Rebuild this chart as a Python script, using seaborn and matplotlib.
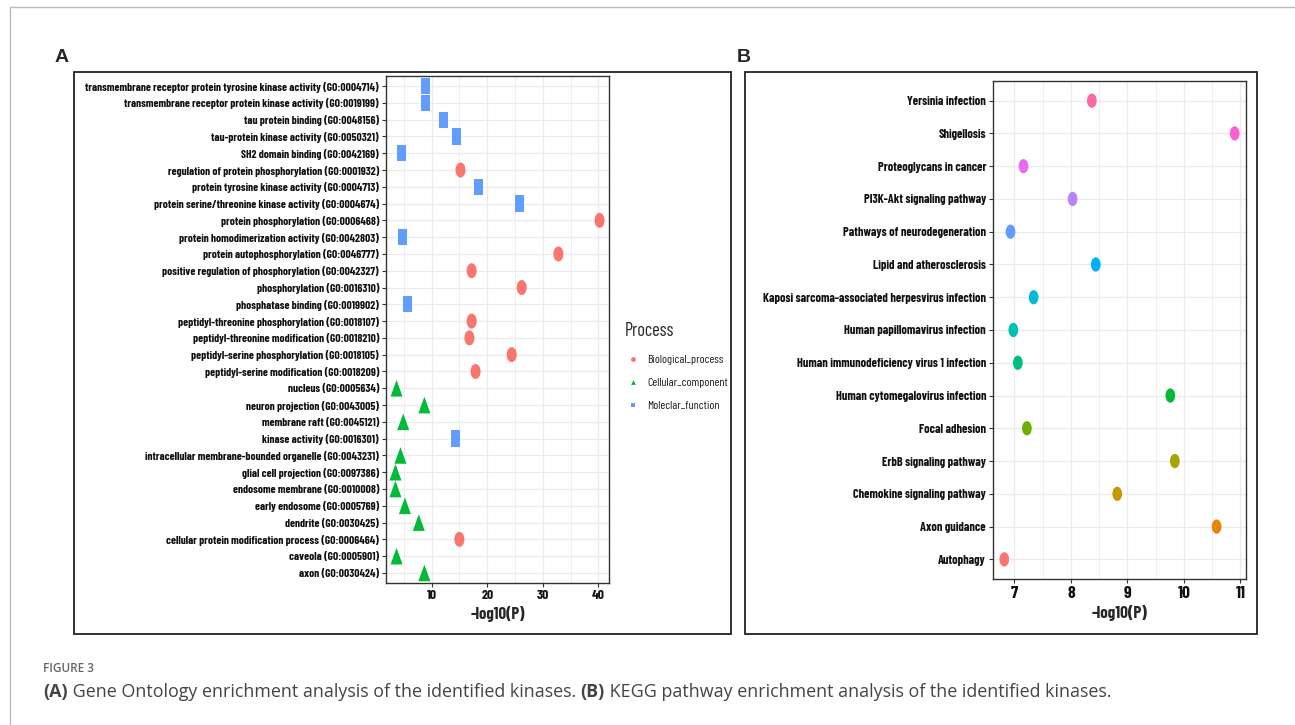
"""
Figure 3: GO (A) and KEGG (B) enrichment dot plots for the identified kinases.
"""

import numpy as np
import pandas as pd
import matplotlib
matplotlib.use('Agg')
import matplotlib.pyplot as plt
import seaborn as sns
from matplotlib import font_manager
from matplotlib.path import Path
from matplotlib.lines import Line2D
from matplotlib.patches import Rectangle

# GO terms, top to bottom as shown
go_terms = [
    'transmembrane receptor protein tyrosine kinase activity (GO:0004714)',
    'transmembrane receptor protein kinase activity (GO:0019199)',
    'tau protein binding (GO:0048156)',
    'tau-protein kinase activity (GO:0050321)',
    'SH2 domain binding (GO:0042169)',
    'regulation of protein phosphorylation (GO:0001932)',
    'protein tyrosine kinase activity (GO:0004713)',
    'protein serine/threonine kinase activity (GO:0004674)',
    'protein phosphorylation (GO:0006468)',
    'protein homodimerization activity (GO:0042803)',
    'protein autophosphorylation (GO:0046777)',
    'positive regulation of phosphorylation (GO:0042327)',
    'phosphorylation (GO:0016310)',
    'phosphatase binding (GO:0019902)',
    'peptidyl-threonine phosphorylation (GO:0018107)',
    'peptidyl-threonine modification (GO:0018210)',
    'peptidyl-serine phosphorylation (GO:0018105)',
    'peptidyl-serine modification (GO:0018209)',
    'nucleus (GO:0005634)',
    'neuron projection (GO:0043005)',
    'membrane raft (GO:0045121)',
    'kinase activity (GO:0016301)',
    'intracellular membrane-bounded organelle (GO:0043231)',
    'glial cell projection (GO:0097386)',
    'endosome membrane (GO:0010008)',
    'early endosome (GO:0005769)',
    'dendrite (GO:0030425)',
    'cellular protein modification process (GO:0006464)',
    'caveola (GO:0005901)',
    'axon (GO:0030424)',
]
go_logp = [8.9, 8.9, 12.2, 14.5, 4.6, 15.2, 18.5, 25.8, 40.2, 4.8,
           32.8, 17.2, 26.2, 5.7, 17.2, 16.8, 24.4, 17.9, 3.7, 8.7,
           4.9, 14.3, 4.4, 3.5, 3.5, 5.2, 7.7, 15.0, 3.7, 8.7]
BP, CC, MF = 'Biological_process', 'Cellular_component', 'Moleclar_function'
go_process = [MF, MF, MF, MF, MF, BP, MF, MF, BP, MF,
              BP, BP, BP, MF, BP, BP, BP, BP, CC, CC,
              CC, MF, CC, CC, CC, CC, CC, BP, CC, CC]
process_levels = [BP, CC, MF]

# KEGG pathways, top to bottom as shown
kegg_terms = [
    'Yersinia infection', 'Shigellosis', 'Proteoglycans in cancer',
    'PI3K-Akt signaling pathway', 'Pathways of neurodegeneration',
    'Lipid and atherosclerosis', 'Kaposi sarcoma-associated herpesvirus infection',
    'Human papillomavirus infection', 'Human immunodeficiency virus 1 infection',
    'Human cytomegalovirus infection', 'Focal adhesion', 'ErbB signaling pathway',
    'Chemokine signaling pathway', 'Axon guidance', 'Autophagy',
]
kegg_logp = [8.37, 10.90, 7.16, 8.03, 6.93, 8.44, 7.34, 6.98, 7.06,
             9.76, 7.22, 9.84, 8.82, 10.58, 6.82]

# ggplot default hue palette (15 levels, alphabetical)
HUE15 = ['#F8766D', '#E58700', '#C99800', '#A3A500', '#6BB100',
         '#00BA38', '#00BF7D', '#00C0AF', '#00BCD8', '#00B0F6',
         '#619CFF', '#B983FF', '#E76BF3', '#FD61D1', '#FF67A4']
PROC_COLORS = {BP: '#F8766D', CC: '#00BA38', MF: '#619CFF'}

sns.set_style('white')
installed = {f.name for f in font_manager.fontManager.ttflist}
NARROW = next((f for f in ['Liberation Sans Narrow', 'Barlow Condensed',
                           'Fira Sans Extra Condensed', 'Roboto Condensed']
               if f in installed), 'DejaVu Sans')
plt.rcParams['font.family'] = [NARROW, 'DejaVu Sans']
plt.rcParams['font.stretch'] = 'condensed'

W, H = 1295, 725


def fx(px):
    return px / W


def fy(py):
    return 1 - py / H


def ellipse(ratio):
    c = Path.unit_circle()
    return Path(c.vertices * np.array([ratio, 1.0]), c.codes)


def rect(ratio):
    return Path([(-ratio, -1), (ratio, -1), (ratio, 1), (-ratio, 1), (-ratio, -1)],
                [Path.MOVETO, Path.LINETO, Path.LINETO, Path.LINETO, Path.CLOSEPOLY])


def tri(ratio):
    return Path([(-ratio, -1), (ratio, -1), (0, 1), (-ratio, -1)],
                [Path.MOVETO, Path.LINETO, Path.LINETO, Path.CLOSEPOLY])


def fit_width(texts, target_px, size0=10.0):
    # scale a group of texts so that the widest one is target_px wide
    r = fig.canvas.get_renderer()
    for t in texts:
        t.set_fontsize(size0)
    widest = max(t.get_window_extent(r).width for t in texts)
    size = size0 * target_px / widest
    for t in texts:
        t.set_fontsize(size)
    return size


def style_axes(ax):
    ax.set_axisbelow(True)
    ax.grid(which='major', color='#EBEBEB', lw=0.9)
    ax.grid(which='minor', axis='x', color='#EBEBEB', lw=0.6)
    for sp in ax.spines.values():
        sp.set_visible(True)
        sp.set_color('#333333')
        sp.set_linewidth(1.0)
    ax.tick_params(which='major', length=3, width=0.8, color='#333333',
                   labelcolor='#111111', pad=2, left=True, bottom=True)
    ax.tick_params(which='minor', length=0)
    for lbl in ax.get_yticklabels() + ax.get_xticklabels():
        lbl.set_fontweight('bold')
    ax.set_ylabel('')


fig = plt.figure(figsize=(W / 100, H / 100), dpi=100)

# Panel A: GO enrichment
go_df = pd.DataFrame({'term': go_terms, 'logp': go_logp, 'process': go_process})
axA = fig.add_axes([fx(386), fy(583), fx(609 - 386), (583 - 76) / H])
sns.scatterplot(data=go_df, x='logp', y='term', hue='process', style='process',
                size='process', hue_order=process_levels, style_order=process_levels,
                size_order=process_levels, palette=PROC_COLORS,
                markers={BP: ellipse(0.67), CC: tri(0.72), MF: rect(0.55)},
                sizes={BP: 117, CC: 144, MF: 137},
                linewidth=0, legend=False, ax=axA)
axA.set_xlim(1.8, 41.9)
axA.set_ylim(len(go_terms) - 0.4, -0.6)
axA.set_xticks([10, 20, 30, 40])
axA.set_xticks([5, 15, 25, 35], minor=True)
style_axes(axA)
axA.set_xlabel('-log10(P)', fontweight='bold', labelpad=4)

# Panel B: KEGG enrichment
kegg_df = pd.DataFrame({'term': kegg_terms, 'logp': kegg_logp})
kegg_colors = dict(zip(sorted(kegg_terms, key=str.lower), HUE15))
axB = fig.add_axes([fx(993), fy(579), fx(1246 - 993), (579 - 81) / H])
sns.scatterplot(data=kegg_df, x='logp', y='term', hue='term', palette=kegg_colors,
                marker=ellipse(0.68), s=106, linewidth=0, legend=False, ax=axB)
axB.set_xlim(6.62, 11.1)
axB.set_ylim(len(kegg_terms) - 0.4, -0.6)
axB.set_xticks([7, 8, 9, 10, 11])
axB.set_xticks([7.5, 8.5, 9.5, 10.5], minor=True)
style_axes(axB)
axB.set_xlabel('-log10(P)', fontweight='bold', labelpad=3)

fig.canvas.draw()
fit_width(axA.get_yticklabels(), 293)
fit_width(axB.get_yticklabels(), 223)
fit_width(axA.get_xticklabels(), 13)
fit_width(axB.get_xticklabels(), 13)
fit_width([axA.xaxis.label], 55)
fit_width([axB.xaxis.label], 56)

# legend: title drawn on its own, entries indented under it
title = fig.text(fx(625), fy(331), 'Process', va='center', ha='left')
fit_width([title], 50)
probe = fig.text(0, 0, 'Biological_process')
leg_size = fit_width([probe], 76)
probe.remove()
handles = [Line2D([], [], linestyle='none', marker=m, markersize=3.5,
                  markerfacecolor=PROC_COLORS[p], markeredgewidth=0)
           for p, m in zip(process_levels, ['o', '^', 's'])]
f_px = leg_size * 100 / 72
leg = fig.legend(handles, process_levels, loc='upper left',
                 bbox_to_anchor=(fx(633 - f_px / 2), fy(355)), frameon=False,
                 fontsize=leg_size, handlelength=1.0,
                 handletextpad=(647 - 633 - f_px / 2) / f_px,
                 labelspacing=(27 - 1.2 * f_px) / f_px, borderpad=0, borderaxespad=0)
for t in leg.get_texts():
    t.set_color('#1a1a1a')

# panel frames and letters
for x0, x1 in [(74, 731), (745, 1257)]:
    fig.add_artist(Rectangle((fx(x0), fy(634)), fx(x1 - x0), (634 - 72) / H,
                             transform=fig.transFigure, fill=False,
                             edgecolor='#222222', lw=1.3))
for x0, letter in [(55, 'A'), (737, 'B')]:
    fig.text(fx(x0), fy(57), letter, fontsize=14, fontweight='bold',
             family='Liberation Sans', stretch='normal', va='center', ha='left')

# page frame
fig.add_artist(Line2D([fx(10), 1], [fy(7), fy(7)], color='#BBBBBB', lw=1.0,
                      transform=fig.transFigure))
fig.add_artist(Line2D([fx(10), fx(10)], [fy(7), 0], color='#BBBBBB', lw=1.0,
                      transform=fig.transFigure))

# caption
fig.text(fx(43), fy(668), 'FIGURE 3', fontsize=8.5, family='Open Sans',
         stretch='normal', fontweight='semibold', color='#666666', va='center')
pieces = [('(A)', 'bold'),
          (' Gene Ontology enrichment analysis of the identified kinases. ', 'normal'),
          ('(B)', 'bold'),
          (' KEGG pathway enrichment analysis of the identified kinases.', 'normal')]
renderer = fig.canvas.get_renderer()
probe = fig.text(0, 0, ''.join(p for p, _ in pieces), fontsize=10,
                 family='Open Sans', stretch='normal', va='center')
cap_size = 10 * (1107 - 43) / probe.get_window_extent(renderer).width
probe.remove()
x = fx(43)
for piece, wt in pieces:
    t = fig.text(x, fy(692), piece, fontsize=cap_size, family='Open Sans',
                 stretch='normal', fontweight=wt, color='#444444', va='center')
    x = t.get_window_extent(renderer).x1 / W

fig.savefig('out.png', dpi=100)
